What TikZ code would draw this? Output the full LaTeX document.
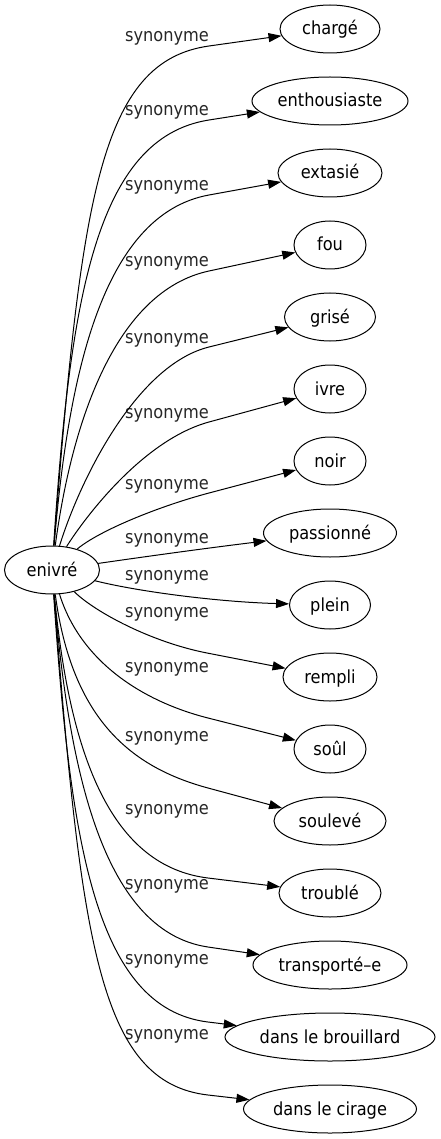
\documentclass[tikz,border=0pt]{standalone}
\usepackage{fontspec}
\setmainfont{DejaVu Sans}[FakeStretch=0.9]
\usetikzlibrary{arrows.meta,shapes.geometric,calc}
\begin{document}
\begin{tikzpicture}[x=1pt,y=-1pt,
  every node/.style={font=\fontsize{18}{20}\selectfont},
  tgt/.style={draw, ellipse, line width=1pt, minimum height=48pt, inner sep=0pt, text height=16pt, text depth=4pt},
  lbl/.style={inner sep=0pt, text height=10pt, text depth=4pt, text=black!85},
  syn/.style={draw, line width=1pt, -{Triangle[length=13pt,width=9pt]}}]
\useasboundingbox (0,0) rectangle (441,1139);
% nodes
\node[tgt, minimum width=95pt] (enivre) at (52,570) {enivré};
\node[tgt, minimum width=100pt] (charge) at (330,29) {chargé};
\node[tgt, minimum width=156pt] (enth) at (330,101) {enthousiaste};
\node[tgt, minimum width=104pt] (extasie) at (330,173) {extasié};
\node[tgt, minimum width=72pt] (fou) at (330,245) {fou};
\node[tgt, minimum width=91pt] (grise) at (330,317) {grisé};
\node[tgt, minimum width=72pt] (ivre) at (330,389) {ivre};
\node[tgt, minimum width=72pt] (noir) at (330,461) {noir};
\node[tgt, minimum width=133pt] (passionne) at (330,533) {passionné};
\node[tgt, minimum width=81pt] (plein) at (330,605) {plein};
\node[tgt, minimum width=94pt] (rempli) at (330,677) {rempli};
\node[tgt, minimum width=72pt] (soul) at (330,749) {soûl};
\node[tgt, minimum width=112pt] (souleve) at (330,821) {soulevé};
\node[tgt, minimum width=102pt] (trouble) at (330,893) {troublé};
\node[tgt, minimum width=154pt] (transporte) at (330,965) {transporté–e};
\node[tgt, minimum width=210pt] (brouillard) at (330,1037) {dans le brouillard};
\node[tgt, minimum width=173pt] (cirage) at (330,1109) {dans le cirage};
% labels
\node[lbl] (l1) at (167,39) {synonyme};
\node[lbl] (l2) at (167,113) {synonyme};
\node[lbl] (l3) at (167,188) {synonyme};
\node[lbl] (l4) at (167,264) {synonyme};
\node[lbl] (l5) at (167,340) {synonyme};
\node[lbl] (l6) at (167,415) {synonyme};
\node[lbl] (l7) at (167,486) {synonyme};
\node[lbl] (l8) at (167,540) {synonyme};
\node[lbl] (l9) at (167,577) {synonyme};
\node[lbl] (l10) at (167,614) {synonyme};
\node[lbl] (l11) at (167,669) {synonyme};
\node[lbl] (l12) at (167,738) {synonyme};
\node[lbl] (l13) at (167,811) {synonyme};
\node[lbl] (l14) at (167,886) {synonyme};
\node[lbl] (l15) at (167,961) {synonyme};
\node[lbl] (l16) at (167,1036) {synonyme};
% via points
\coordinate (k1) at (209,46);
\coordinate (k2) at (209,120);
\coordinate (k3) at (209,195);
\coordinate (k4) at (209,271);
\coordinate (k5) at (209,347);
\coordinate (k6) at (209,422);
\coordinate (k7) at (209,493);
\coordinate (k10) at (207,653);
\coordinate (k11) at (208,718);
\coordinate (k12) at (208,788);
\coordinate (k13) at (208,878);
\coordinate (k14) at (208,947);
\coordinate (k15) at (208,1022);
\coordinate (k16) at (208,1095);
% edges
\draw[syn] (enivre) .. controls (81,197) and ($(k1)!-110pt!(charge)$) .. (k1) -- (charge);
\draw[syn] (enivre) .. controls (70,300) and ($(k2)!-115pt!(enth)$) .. (k2) -- (enth);
\draw[syn] (enivre) .. controls (68,380) and ($(k3)!-110pt!(extasie)$) .. (k3) -- (extasie);
\draw[syn] (enivre) .. controls (72,420) and ($(k4)!-95pt!(fou)$) .. (k4) -- (fou);
\draw[syn] (enivre) .. controls (80,480) and ($(k5)!-75pt!(grise)$) .. (k5) -- (grise);
\draw[syn] (enivre) .. controls (80,525) and ($(k6)!-72pt!(ivre)$) .. (k6) -- (ivre);
\draw[syn] (enivre) .. controls (100,530) and ($(k7)!-50pt!(noir)$) .. (k7) -- (noir);
\draw[syn] (enivre) .. controls (150,556) and (200,549) .. (passionne);
\draw[syn] (enivre) .. controls (140,592) and (220,602) .. (plein);
\draw[syn] (enivre) .. controls (95,612) and ($(k10)!-57pt!(rempli)$) .. (k10) -- (rempli);
\draw[syn] (enivre) .. controls (80,660) and ($(k11)!-70pt!(soul)$) .. (k11) -- (soul);
\draw[syn] (enivre) .. controls (72,720) and ($(k12)!-79pt!(souleve)$) .. (k12) -- (souleve);
\draw[syn] (enivre) .. controls (70,760) and ($(k13)!-96pt!(trouble)$) .. (k13) -- (trouble);
\draw[syn] (enivre) .. controls (68,758) and ($(k14)!-110pt!(transporte)$) .. (k14) -- (transporte);
\draw[syn] (enivre) .. controls (70,838) and ($(k15)!-115pt!(brouillard)$) .. (k15) -- (brouillard);
\draw[syn] (enivre) .. controls (81,941) and ($(k16)!-110pt!(cirage)$) .. (k16) -- (cirage);
\end{tikzpicture}
\end{document}
